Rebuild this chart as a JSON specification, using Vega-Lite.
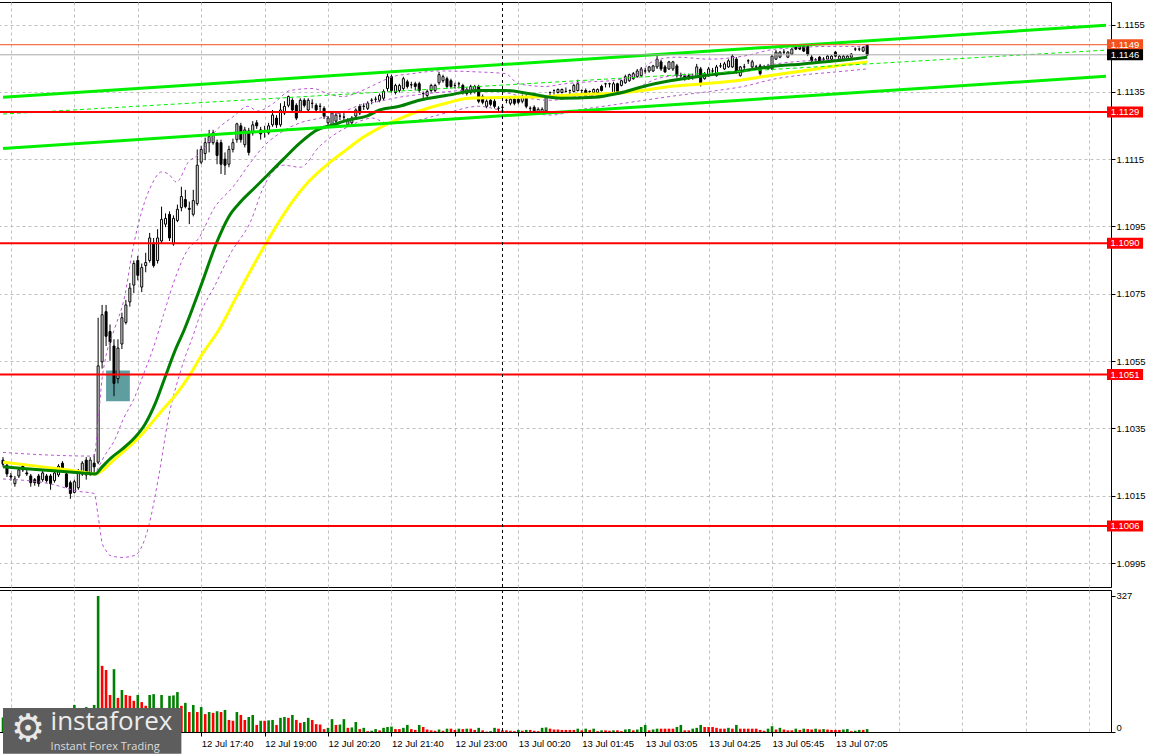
{
"$schema": "https://vega.github.io/schema/vega-lite/v6.json",
"background": "white",
"padding": {"left": -3, "top": 1, "right": 0, "bottom": 0},
"bounds": "flush",
"spacing": 3,
"datasets": {
"bars": [
{"n":0,"o":1.10256,"h":1.10265,"l":1.10236,"c":1.10244,"v":35},
{"n":1,"o":1.10241,"h":1.10247,"l":1.10206,"c":1.10215,"v":28},
{"n":2,"o":1.10209,"h":1.10218,"l":1.10195,"c":1.10206,"v":40},
{"n":3,"o":1.10186,"h":1.10209,"l":1.10177,"c":1.10200,"v":22},
{"n":4,"o":1.10209,"h":1.10236,"l":1.10203,"c":1.10227,"v":30},
{"n":5,"o":1.10238,"h":1.10244,"l":1.10221,"c":1.10227,"v":25},
{"n":6,"o":1.10218,"h":1.10230,"l":1.10209,"c":1.10215,"v":38},
{"n":7,"o":1.10209,"h":1.10215,"l":1.10177,"c":1.10189,"v":30},
{"n":8,"o":1.10198,"h":1.10203,"l":1.10180,"c":1.10189,"v":26},
{"n":9,"o":1.10209,"h":1.10215,"l":1.10177,"c":1.10186,"v":32},
{"n":10,"o":1.10198,"h":1.10224,"l":1.10192,"c":1.10218,"v":45},
{"n":11,"o":1.10209,"h":1.10215,"l":1.10189,"c":1.10195,"v":28},
{"n":12,"o":1.10209,"h":1.10215,"l":1.10168,"c":1.10186,"v":33},
{"n":13,"o":1.10195,"h":1.10224,"l":1.10189,"c":1.10218,"v":50},
{"n":14,"o":1.10212,"h":1.10244,"l":1.10206,"c":1.10238,"v":42},
{"n":15,"o":1.10247,"h":1.10253,"l":1.10227,"c":1.10233,"v":30},
{"n":16,"o":1.10215,"h":1.10221,"l":1.10174,"c":1.10177,"v":48},
{"n":17,"o":1.10189,"h":1.10195,"l":1.10141,"c":1.10157,"v":55},
{"n":18,"o":1.10160,"h":1.10198,"l":1.10157,"c":1.10192,"v":65},
{"n":19,"o":1.10174,"h":1.10230,"l":1.10168,"c":1.10224,"v":50},
{"n":20,"o":1.10215,"h":1.10253,"l":1.10209,"c":1.10247,"v":45},
{"n":21,"o":1.10256,"h":1.10265,"l":1.10198,"c":1.10212,"v":60},
{"n":22,"o":1.10215,"h":1.10265,"l":1.10209,"c":1.10256,"v":48},
{"n":23,"o":1.10247,"h":1.10274,"l":1.10215,"c":1.10236,"v":65},
{"n":24,"o":1.10250,"h":1.10679,"l":1.10244,"c":1.10536,"v":327},
{"n":25,"o":1.10548,"h":1.10717,"l":1.10528,"c":1.10688,"v":159},
{"n":26,"o":1.10697,"h":1.10717,"l":1.10595,"c":1.10624,"v":149},
{"n":27,"o":1.10638,"h":1.10659,"l":1.10551,"c":1.10606,"v":89},
{"n":28,"o":1.10595,"h":1.10615,"l":1.10446,"c":1.10484,"v":151},
{"n":29,"o":1.10498,"h":1.10615,"l":1.10484,"c":1.10589,"v":82},
{"n":30,"o":1.10601,"h":1.10694,"l":1.10586,"c":1.10679,"v":101},
{"n":31,"o":1.10665,"h":1.10732,"l":1.10659,"c":1.10717,"v":89},
{"n":32,"o":1.10726,"h":1.10782,"l":1.10712,"c":1.10767,"v":87},
{"n":33,"o":1.10776,"h":1.10849,"l":1.10752,"c":1.10840,"v":75},
{"n":34,"o":1.10849,"h":1.10863,"l":1.10790,"c":1.10805,"v":89},
{"n":35,"o":1.10770,"h":1.10840,"l":1.10755,"c":1.10828,"v":72},
{"n":36,"o":1.10834,"h":1.10872,"l":1.10814,"c":1.10843,"v":63},
{"n":37,"o":1.10849,"h":1.10931,"l":1.10843,"c":1.10916,"v":89},
{"n":38,"o":1.10901,"h":1.10916,"l":1.10828,"c":1.10834,"v":91},
{"n":39,"o":1.10849,"h":1.10942,"l":1.10840,"c":1.10916,"v":58},
{"n":40,"o":1.10907,"h":1.11009,"l":1.10898,"c":1.10971,"v":89},
{"n":41,"o":1.10957,"h":1.10989,"l":1.10948,"c":1.10974,"v":55},
{"n":42,"o":1.10986,"h":1.10995,"l":1.10907,"c":1.10916,"v":87},
{"n":43,"o":1.10898,"h":1.10983,"l":1.10893,"c":1.10974,"v":88},
{"n":44,"o":1.10968,"h":1.11015,"l":1.10963,"c":1.11001,"v":96},
{"n":45,"o":1.11006,"h":1.11068,"l":1.10995,"c":1.11039,"v":63},
{"n":46,"o":1.11030,"h":1.11059,"l":1.11004,"c":1.11009,"v":70},
{"n":47,"o":1.11004,"h":1.11024,"l":1.10957,"c":1.11001,"v":48},
{"n":48,"o":1.10986,"h":1.11059,"l":1.10980,"c":1.11027,"v":65},
{"n":49,"o":1.11018,"h":1.11179,"l":1.11012,"c":1.11132,"v":48},
{"n":50,"o":1.11141,"h":1.11190,"l":1.11135,"c":1.11179,"v":60},
{"n":51,"o":1.11167,"h":1.11214,"l":1.11147,"c":1.11199,"v":43},
{"n":52,"o":1.11199,"h":1.11237,"l":1.11170,"c":1.11217,"v":48},
{"n":53,"o":1.11199,"h":1.11237,"l":1.11193,"c":1.11228,"v":46},
{"n":54,"o":1.11199,"h":1.11208,"l":1.11135,"c":1.11161,"v":50},
{"n":55,"o":1.11199,"h":1.11208,"l":1.11106,"c":1.11135,"v":48},
{"n":56,"o":1.11150,"h":1.11170,"l":1.11103,"c":1.11132,"v":53},
{"n":57,"o":1.11135,"h":1.11190,"l":1.11126,"c":1.11179,"v":29},
{"n":58,"o":1.11179,"h":1.11211,"l":1.11170,"c":1.11199,"v":27},
{"n":59,"o":1.11208,"h":1.11258,"l":1.11199,"c":1.11255,"v":48},
{"n":60,"o":1.11249,"h":1.11258,"l":1.11199,"c":1.11208,"v":41},
{"n":61,"o":1.11193,"h":1.11246,"l":1.11185,"c":1.11237,"v":29},
{"n":62,"o":1.11234,"h":1.11243,"l":1.11161,"c":1.11170,"v":36},
{"n":63,"o":1.11228,"h":1.11263,"l":1.11220,"c":1.11252,"v":41},
{"n":64,"o":1.11258,"h":1.11266,"l":1.11240,"c":1.11249,"v":17},
{"n":65,"o":1.11237,"h":1.11246,"l":1.11208,"c":1.11225,"v":27},
{"n":66,"o":1.11234,"h":1.11249,"l":1.11214,"c":1.11234,"v":27},
{"n":67,"o":1.11228,"h":1.11258,"l":1.11223,"c":1.11249,"v":28},
{"n":68,"o":1.11252,"h":1.11296,"l":1.11246,"c":1.11281,"v":29},
{"n":69,"o":1.11272,"h":1.11281,"l":1.11243,"c":1.11252,"v":17},
{"n":70,"o":1.11252,"h":1.11316,"l":1.11246,"c":1.11296,"v":34},
{"n":71,"o":1.11287,"h":1.11322,"l":1.11281,"c":1.11307,"v":36},
{"n":72,"o":1.11310,"h":1.11339,"l":1.11304,"c":1.11336,"v":34},
{"n":73,"o":1.11325,"h":1.11331,"l":1.11287,"c":1.11296,"v":41},
{"n":74,"o":1.11310,"h":1.11316,"l":1.11266,"c":1.11272,"v":29},
{"n":75,"o":1.11293,"h":1.11331,"l":1.11287,"c":1.11325,"v":22},
{"n":76,"o":1.11325,"h":1.11331,"l":1.11304,"c":1.11310,"v":24},
{"n":77,"o":1.11296,"h":1.11331,"l":1.11290,"c":1.11325,"v":34},
{"n":78,"o":1.11316,"h":1.11328,"l":1.11301,"c":1.11316,"v":29},
{"n":79,"o":1.11310,"h":1.11316,"l":1.11287,"c":1.11296,"v":19},
{"n":80,"o":1.11307,"h":1.11316,"l":1.11293,"c":1.11307,"v":18},
{"n":81,"o":1.11301,"h":1.11307,"l":1.11269,"c":1.11278,"v":7},
{"n":82,"o":1.11258,"h":1.11278,"l":1.11252,"c":1.11272,"v":10},
{"n":83,"o":1.11249,"h":1.11293,"l":1.11243,"c":1.11287,"v":31},
{"n":84,"o":1.11263,"h":1.11287,"l":1.11258,"c":1.11281,"v":17},
{"n":85,"o":1.11278,"h":1.11287,"l":1.11266,"c":1.11278,"v":18},
{"n":86,"o":1.11275,"h":1.11293,"l":1.11263,"c":1.11275,"v":31},
{"n":87,"o":1.11252,"h":1.11272,"l":1.11249,"c":1.11266,"v":10},
{"n":88,"o":1.11258,"h":1.11278,"l":1.11252,"c":1.11272,"v":11},
{"n":89,"o":1.11278,"h":1.11301,"l":1.11272,"c":1.11296,"v":24},
{"n":90,"o":1.11307,"h":1.11313,"l":1.11281,"c":1.11287,"v":7},
{"n":91,"o":1.11307,"h":1.11316,"l":1.11296,"c":1.11307,"v":10},
{"n":92,"o":1.11301,"h":1.11322,"l":1.11296,"c":1.11316,"v":2},
{"n":93,"o":1.11325,"h":1.11331,"l":1.11313,"c":1.11325,"v":3},
{"n":94,"o":1.11328,"h":1.11336,"l":1.11319,"c":1.11328,"v":7},
{"n":95,"o":1.11325,"h":1.11345,"l":1.11319,"c":1.11339,"v":4},
{"n":96,"o":1.11331,"h":1.11357,"l":1.11325,"c":1.11351,"v":10},
{"n":97,"o":1.11360,"h":1.11404,"l":1.11351,"c":1.11395,"v":12},
{"n":98,"o":1.11395,"h":1.11401,"l":1.11348,"c":1.11354,"v":13},
{"n":99,"o":1.11348,"h":1.11374,"l":1.11342,"c":1.11369,"v":7},
{"n":100,"o":1.11354,"h":1.11374,"l":1.11348,"c":1.11369,"v":7},
{"n":101,"o":1.11360,"h":1.11395,"l":1.11354,"c":1.11389,"v":10},
{"n":102,"o":1.11380,"h":1.11386,"l":1.11360,"c":1.11366,"v":17},
{"n":103,"o":1.11371,"h":1.11380,"l":1.11360,"c":1.11371,"v":7},
{"n":104,"o":1.11374,"h":1.11380,"l":1.11354,"c":1.11366,"v":5},
{"n":105,"o":1.11374,"h":1.11380,"l":1.11348,"c":1.11354,"v":17},
{"n":106,"o":1.11345,"h":1.11351,"l":1.11331,"c":1.11345,"v":12},
{"n":107,"o":1.11339,"h":1.11357,"l":1.11334,"c":1.11351,"v":6},
{"n":108,"o":1.11354,"h":1.11374,"l":1.11348,"c":1.11369,"v":4},
{"n":109,"o":1.11354,"h":1.11374,"l":1.11348,"c":1.11369,"v":3},
{"n":110,"o":1.11377,"h":1.11409,"l":1.11371,"c":1.11401,"v":6},
{"n":111,"o":1.11383,"h":1.11401,"l":1.11377,"c":1.11395,"v":3},
{"n":112,"o":1.11389,"h":1.11395,"l":1.11360,"c":1.11366,"v":8},
{"n":113,"o":1.11383,"h":1.11389,"l":1.11360,"c":1.11366,"v":8},
{"n":114,"o":1.11369,"h":1.11377,"l":1.11360,"c":1.11369,"v":5},
{"n":115,"o":1.11374,"h":1.11380,"l":1.11360,"c":1.11374,"v":8},
{"n":116,"o":1.11369,"h":1.11374,"l":1.11342,"c":1.11348,"v":7},
{"n":117,"o":1.11345,"h":1.11363,"l":1.11339,"c":1.11357,"v":8},
{"n":118,"o":1.11348,"h":1.11371,"l":1.11342,"c":1.11366,"v":8},
{"n":119,"o":1.11351,"h":1.11371,"l":1.11345,"c":1.11366,"v":5},
{"n":120,"o":1.11366,"h":1.11371,"l":1.11316,"c":1.11322,"v":10},
{"n":121,"o":1.11336,"h":1.11342,"l":1.11313,"c":1.11319,"v":4},
{"n":122,"o":1.11307,"h":1.11328,"l":1.11301,"c":1.11322,"v":1},
{"n":123,"o":1.11325,"h":1.11331,"l":1.11307,"c":1.11313,"v":2},
{"n":124,"o":1.11322,"h":1.11328,"l":1.11301,"c":1.11307,"v":10},
{"n":125,"o":1.11301,"h":1.11307,"l":1.11287,"c":1.11301,"v":8},
{"n":126,"o":1.11304,"h":1.11310,"l":1.11293,"c":1.11304,"v":4},
{"n":127,"o":1.11325,"h":1.11334,"l":1.11316,"c":1.11325,"v":4},
{"n":128,"o":1.11316,"h":1.11334,"l":1.11310,"c":1.11328,"v":3},
{"n":129,"o":1.11328,"h":1.11334,"l":1.11310,"c":1.11316,"v":2},
{"n":130,"o":1.11328,"h":1.11334,"l":1.11313,"c":1.11319,"v":5},
{"n":131,"o":1.11322,"h":1.11342,"l":1.11316,"c":1.11336,"v":3},
{"n":132,"o":1.11336,"h":1.11342,"l":1.11301,"c":1.11307,"v":5},
{"n":133,"o":1.11301,"h":1.11307,"l":1.11293,"c":1.11301,"v":5},
{"n":134,"o":1.11304,"h":1.11310,"l":1.11287,"c":1.11293,"v":3},
{"n":135,"o":1.11287,"h":1.11304,"l":1.11284,"c":1.11298,"v":2},
{"n":136,"o":1.11287,"h":1.11304,"l":1.11284,"c":1.11298,"v":10},
{"n":137,"o":1.11293,"h":1.11339,"l":1.11287,"c":1.11334,"v":11},
{"n":138,"o":1.11348,"h":1.11351,"l":1.11336,"c":1.11348,"v":8},
{"n":139,"o":1.11354,"h":1.11357,"l":1.11342,"c":1.11354,"v":6},
{"n":140,"o":1.11348,"h":1.11360,"l":1.11345,"c":1.11357,"v":6},
{"n":141,"o":1.11348,"h":1.11360,"l":1.11345,"c":1.11357,"v":5},
{"n":142,"o":1.11351,"h":1.11363,"l":1.11348,"c":1.11351,"v":5},
{"n":143,"o":1.11354,"h":1.11357,"l":1.11342,"c":1.11354,"v":5},
{"n":144,"o":1.11351,"h":1.11374,"l":1.11348,"c":1.11369,"v":5},
{"n":145,"o":1.11354,"h":1.11386,"l":1.11351,"c":1.11374,"v":8},
{"n":146,"o":1.11354,"h":1.11357,"l":1.11345,"c":1.11354,"v":4},
{"n":147,"o":1.11354,"h":1.11360,"l":1.11336,"c":1.11339,"v":8},
{"n":148,"o":1.11351,"h":1.11354,"l":1.11339,"c":1.11351,"v":5},
{"n":149,"o":1.11348,"h":1.11360,"l":1.11345,"c":1.11357,"v":8},
{"n":150,"o":1.11348,"h":1.11360,"l":1.11345,"c":1.11357,"v":2},
{"n":151,"o":1.11366,"h":1.11371,"l":1.11351,"c":1.11354,"v":4},
{"n":152,"o":1.11374,"h":1.11377,"l":1.11363,"c":1.11374,"v":4},
{"n":153,"o":1.11374,"h":1.11377,"l":1.11363,"c":1.11374,"v":3},
{"n":154,"o":1.11348,"h":1.11380,"l":1.11345,"c":1.11374,"v":4},
{"n":155,"o":1.11374,"h":1.11377,"l":1.11345,"c":1.11348,"v":4},
{"n":156,"o":1.11369,"h":1.11386,"l":1.11366,"c":1.11383,"v":2},
{"n":157,"o":1.11377,"h":1.11401,"l":1.11374,"c":1.11395,"v":6},
{"n":158,"o":1.11383,"h":1.11404,"l":1.11380,"c":1.11401,"v":7},
{"n":159,"o":1.11389,"h":1.11409,"l":1.11386,"c":1.11404,"v":4},
{"n":160,"o":1.11395,"h":1.11418,"l":1.11392,"c":1.11412,"v":6},
{"n":161,"o":1.11398,"h":1.11424,"l":1.11395,"c":1.11418,"v":12},
{"n":162,"o":1.11412,"h":1.11421,"l":1.11404,"c":1.11412,"v":17},
{"n":163,"o":1.11412,"h":1.11427,"l":1.11407,"c":1.11424,"v":4},
{"n":164,"o":1.11412,"h":1.11430,"l":1.11409,"c":1.11427,"v":6},
{"n":165,"o":1.11424,"h":1.11459,"l":1.11418,"c":1.11447,"v":8},
{"n":166,"o":1.11439,"h":1.11445,"l":1.11412,"c":1.11418,"v":8},
{"n":167,"o":1.11424,"h":1.11430,"l":1.11407,"c":1.11409,"v":8},
{"n":168,"o":1.11418,"h":1.11442,"l":1.11415,"c":1.11439,"v":8},
{"n":169,"o":1.11418,"h":1.11442,"l":1.11412,"c":1.11439,"v":8},
{"n":170,"o":1.11427,"h":1.11433,"l":1.11392,"c":1.11398,"v":12},
{"n":171,"o":1.11398,"h":1.11407,"l":1.11392,"c":1.11398,"v":17},
{"n":172,"o":1.11398,"h":1.11404,"l":1.11383,"c":1.11389,"v":4},
{"n":173,"o":1.11398,"h":1.11404,"l":1.11386,"c":1.11389,"v":4},
{"n":174,"o":1.11395,"h":1.11404,"l":1.11386,"c":1.11395,"v":8},
{"n":175,"o":1.11395,"h":1.11433,"l":1.11392,"c":1.11424,"v":10},
{"n":176,"o":1.11418,"h":1.11424,"l":1.11366,"c":1.11374,"v":17},
{"n":177,"o":1.11389,"h":1.11409,"l":1.11386,"c":1.11404,"v":12},
{"n":178,"o":1.11398,"h":1.11424,"l":1.11395,"c":1.11418,"v":12},
{"n":179,"o":1.11412,"h":1.11421,"l":1.11404,"c":1.11412,"v":12},
{"n":180,"o":1.11398,"h":1.11430,"l":1.11395,"c":1.11424,"v":10},
{"n":181,"o":1.11427,"h":1.11436,"l":1.11421,"c":1.11427,"v":8},
{"n":182,"o":1.11418,"h":1.11439,"l":1.11415,"c":1.11433,"v":8},
{"n":183,"o":1.11424,"h":1.11447,"l":1.11421,"c":1.11442,"v":10},
{"n":184,"o":1.11424,"h":1.11462,"l":1.11421,"c":1.11456,"v":8},
{"n":185,"o":1.11447,"h":1.11453,"l":1.11404,"c":1.11409,"v":17},
{"n":186,"o":1.11398,"h":1.11427,"l":1.11395,"c":1.11424,"v":8},
{"n":187,"o":1.11424,"h":1.11433,"l":1.11415,"c":1.11424,"v":8},
{"n":188,"o":1.11442,"h":1.11447,"l":1.11433,"c":1.11442,"v":8},
{"n":189,"o":1.11424,"h":1.11445,"l":1.11421,"c":1.11439,"v":8},
{"n":190,"o":1.11424,"h":1.11430,"l":1.11418,"c":1.11424,"v":8},
{"n":191,"o":1.11427,"h":1.11433,"l":1.11398,"c":1.11404,"v":5},
{"n":192,"o":1.11424,"h":1.11430,"l":1.11418,"c":1.11424,"v":3},
{"n":193,"o":1.11418,"h":1.11433,"l":1.11415,"c":1.11427,"v":8},
{"n":194,"o":1.11418,"h":1.11459,"l":1.11415,"c":1.11456,"v":14},
{"n":195,"o":1.11447,"h":1.11474,"l":1.11445,"c":1.11468,"v":6},
{"n":196,"o":1.11453,"h":1.11471,"l":1.11450,"c":1.11468,"v":10},
{"n":197,"o":1.11468,"h":1.11477,"l":1.11462,"c":1.11468,"v":6},
{"n":198,"o":1.11453,"h":1.11471,"l":1.11450,"c":1.11468,"v":4},
{"n":199,"o":1.11462,"h":1.11480,"l":1.11459,"c":1.11477,"v":4},
{"n":200,"o":1.11485,"h":1.11488,"l":1.11474,"c":1.11477,"v":8},
{"n":201,"o":1.11485,"h":1.11488,"l":1.11474,"c":1.11477,"v":5},
{"n":202,"o":1.11485,"h":1.11488,"l":1.11468,"c":1.11471,"v":8},
{"n":203,"o":1.11485,"h":1.11488,"l":1.11456,"c":1.11462,"v":7},
{"n":204,"o":1.11453,"h":1.11459,"l":1.11439,"c":1.11442,"v":6},
{"n":205,"o":1.11445,"h":1.11450,"l":1.11439,"c":1.11445,"v":8},
{"n":206,"o":1.11453,"h":1.11456,"l":1.11436,"c":1.11439,"v":6},
{"n":207,"o":1.11447,"h":1.11453,"l":1.11442,"c":1.11447,"v":7},
{"n":208,"o":1.11447,"h":1.11459,"l":1.11445,"c":1.11456,"v":6},
{"n":209,"o":1.11447,"h":1.11459,"l":1.11445,"c":1.11456,"v":5},
{"n":210,"o":1.11468,"h":1.11471,"l":1.11453,"c":1.11456,"v":5},
{"n":211,"o":1.11447,"h":1.11459,"l":1.11445,"c":1.11456,"v":5},
{"n":212,"o":1.11447,"h":1.11459,"l":1.11445,"c":1.11456,"v":6},
{"n":213,"o":1.11447,"h":1.11459,"l":1.11445,"c":1.11456,"v":7},
{"n":214,"o":1.11453,"h":1.11465,"l":1.11450,"c":1.11462,"v":2},
{"n":215,"o":1.11477,"h":1.11482,"l":1.11471,"c":1.11477,"v":3},
{"n":216,"o":1.11477,"h":1.11482,"l":1.11471,"c":1.11477,"v":5},
{"n":217,"o":1.11471,"h":1.11485,"l":1.11468,"c":1.11482,"v":5},
{"n":218,"o":1.11488,"h":1.11491,"l":1.11456,"c":1.11459,"v":7}
],
"ind": [
{"s":"g","n":0,"p":1.10236},{"s":"g","n":10,"p":1.10227},{"s":"g","n":20,"p":1.10218},{"s":"g","n":23.25,"p":1.10215},{"s":"g","n":25,"p":1.10236},{"s":"g","n":27.5,"p":1.10265},{"s":"g","n":30,"p":1.10288},{"s":"g","n":33.25,"p":1.10323},{"s":"g","n":35.75,"p":1.10361},{"s":"g","n":38.25,"p":1.10420},{"s":"g","n":40.75,"p":1.10498},{"s":"g","n":43.25,"p":1.10577},{"s":"g","n":45.75,"p":1.10644},{"s":"g","n":50,"p":1.10776},{"s":"g","n":53.75,"p":1.10898},{"s":"g","n":57,"p":1.10980},{"s":"g","n":60,"p":1.11024},{"s":"g","n":63.25,"p":1.11062},{"s":"g","n":66.75,"p":1.11103},{"s":"g","n":70.75,"p":1.11150},{"s":"g","n":75,"p":1.11199},{"s":"g","n":79.25,"p":1.11237},{"s":"g","n":83.25,"p":1.11252},{"s":"g","n":87,"p":1.11266},{"s":"g","n":91.75,"p":1.11278},{"s":"g","n":95,"p":1.11296},{"s":"g","n":100,"p":1.11307},{"s":"g","n":105,"p":1.11325},{"s":"g","n":111.75,"p":1.11339},{"s":"g","n":120,"p":1.11354},{"s":"g","n":126.75,"p":1.11354},{"s":"g","n":132.5,"p":1.11345},{"s":"g","n":140.75,"p":1.11331},{"s":"g","n":149.25,"p":1.11334},{"s":"g","n":155,"p":1.11345},{"s":"g","n":162.5,"p":1.11369},{"s":"g","n":168.25,"p":1.11383},{"s":"g","n":176.75,"p":1.11398},{"s":"g","n":185,"p":1.11409},{"s":"g","n":193.25,"p":1.11424},{"s":"g","n":201.75,"p":1.11433},{"s":"g","n":210,"p":1.11442},{"s":"g","n":218,"p":1.11453},
{"s":"y","n":0,"p":1.10250},{"s":"y","n":10,"p":1.10236},{"s":"y","n":20,"p":1.10221},{"s":"y","n":23,"p":1.10215},{"s":"y","n":28.75,"p":1.10265},{"s":"y","n":35,"p":1.10332},{"s":"y","n":40,"p":1.10402},{"s":"y","n":44.25,"p":1.10460},{"s":"y","n":47,"p":1.10507},{"s":"y","n":50,"p":1.10566},{"s":"y","n":54.5,"p":1.10644},{"s":"y","n":58.75,"p":1.10738},{"s":"y","n":62.5,"p":1.10820},{"s":"y","n":66.25,"p":1.10898},{"s":"y","n":70,"p":1.10971},{"s":"y","n":73,"p":1.11024},{"s":"y","n":77,"p":1.11082},{"s":"y","n":82.5,"p":1.11141},{"s":"y","n":86.75,"p":1.11179},{"s":"y","n":90.75,"p":1.11214},{"s":"y","n":95,"p":1.11243},{"s":"y","n":99.25,"p":1.11266},{"s":"y","n":105,"p":1.11293},{"s":"y","n":111.75,"p":1.11316},{"s":"y","n":117.5,"p":1.11331},{"s":"y","n":128.25,"p":1.11334},{"s":"y","n":136.75,"p":1.11336},{"s":"y","n":145,"p":1.11342},{"s":"y","n":153.25,"p":1.11345},{"s":"y","n":163.25,"p":1.11357},{"s":"y","n":168.25,"p":1.11366},{"s":"y","n":176.75,"p":1.11374},{"s":"y","n":185,"p":1.11383},{"s":"y","n":193.25,"p":1.11398},{"s":"y","n":201.75,"p":1.11412},{"s":"y","n":210,"p":1.11427},{"s":"y","n":218,"p":1.11439},
{"s":"u","n":0,"p":1.10279},{"s":"u","n":11.75,"p":1.10271},{"s":"u","n":23,"p":1.10268},{"s":"u","n":24,"p":1.10373},{"s":"u","n":25,"p":1.10498},{"s":"u","n":26,"p":1.10566},{"s":"u","n":28.25,"p":1.10650},{"s":"u","n":30.5,"p":1.10732},{"s":"u","n":33,"p":1.10898},{"s":"u","n":35,"p":1.10995},{"s":"u","n":37.5,"p":1.11074},{"s":"u","n":40,"p":1.11112},{"s":"u","n":41.75,"p":1.11106},{"s":"u","n":43.75,"p":1.11082},{"s":"u","n":46.75,"p":1.11141},{"s":"u","n":50,"p":1.11170},{"s":"u","n":53.25,"p":1.11228},{"s":"u","n":58.25,"p":1.11278},{"s":"u","n":61.75,"p":1.11307},{"s":"u","n":64.25,"p":1.11293},{"s":"u","n":68.25,"p":1.11316},{"s":"u","n":72.5,"p":1.11354},{"s":"u","n":78.25,"p":1.11360},{"s":"u","n":81.75,"p":1.11345},{"s":"u","n":85.75,"p":1.11336},{"s":"u","n":90,"p":1.11351},{"s":"u","n":94.25,"p":1.11374},{"s":"u","n":98.25,"p":1.11395},{"s":"u","n":103.25,"p":1.11404},{"s":"u","n":110,"p":1.11412},{"s":"u","n":120,"p":1.11409},{"s":"u","n":126.75,"p":1.11404},{"s":"u","n":130,"p":1.11374},{"s":"u","n":136.75,"p":1.11366},{"s":"u","n":141.75,"p":1.11374},{"s":"u","n":148.25,"p":1.11380},{"s":"u","n":153.25,"p":1.11383},{"s":"u","n":160,"p":1.11404},{"s":"u","n":164.25,"p":1.11442},{"s":"u","n":170,"p":1.11453},{"s":"u","n":178.25,"p":1.11447},{"s":"u","n":186.75,"p":1.11456},{"s":"u","n":195,"p":1.11477},{"s":"u","n":210,"p":1.11485},{"s":"u","n":218,"p":1.11485},
{"s":"d","n":0,"p":1.10200},{"s":"d","n":11.75,"p":1.10186},{"s":"d","n":19.25,"p":1.10163},{"s":"d","n":23,"p":1.10157},{"s":"d","n":24,"p":1.10090},{"s":"d","n":25,"p":1.10011},{"s":"d","n":26,"p":1.09987},{"s":"d","n":27,"p":1.09973},{"s":"d","n":30,"p":1.09967},{"s":"d","n":33.25,"p":1.09973},{"s":"d","n":36.75,"p":1.10060},{"s":"d","n":39.25,"p":1.10206},{"s":"d","n":41.75,"p":1.10382},{"s":"d","n":45,"p":1.10528},{"s":"d","n":48.25,"p":1.10636},{"s":"d","n":50,"p":1.10697},{"s":"d","n":53.25,"p":1.10770},{"s":"d","n":57.5,"p":1.10872},{"s":"d","n":62.5,"p":1.10966},{"s":"d","n":65.75,"p":1.11068},{"s":"d","n":70.75,"p":1.11132},{"s":"d","n":75,"p":1.11126},{"s":"d","n":80,"p":1.11190},{"s":"d","n":83.25,"p":1.11220},{"s":"d","n":87.5,"p":1.11249},{"s":"d","n":93.25,"p":1.11272},{"s":"d","n":96.75,"p":1.11258},{"s":"d","n":103.25,"p":1.11263},{"s":"d","n":111.75,"p":1.11287},{"s":"d","n":120,"p":1.11307},{"s":"d","n":126.75,"p":1.11293},{"s":"d","n":132.5,"p":1.11287},{"s":"d","n":138.25,"p":1.11281},{"s":"d","n":145,"p":1.11296},{"s":"d","n":153.25,"p":1.11310},{"s":"d","n":161.75,"p":1.11325},{"s":"d","n":170,"p":1.11339},{"s":"d","n":178.25,"p":1.11351},{"s":"d","n":186.75,"p":1.11366},{"s":"d","n":195,"p":1.11389},{"s":"d","n":202.5,"p":1.11401},{"s":"d","n":210,"p":1.11409},{"s":"d","n":218,"p":1.11418},
{"s":"m","n":0,"p":1.10236},{"s":"m","n":11.75,"p":1.10227},{"s":"m","n":23,"p":1.10215},{"s":"m","n":24,"p":1.10233},{"s":"m","n":25,"p":1.10256},{"s":"m","n":26,"p":1.10276},{"s":"m","n":28,"p":1.10312},{"s":"m","n":30.5,"p":1.10382},{"s":"m","n":33,"p":1.10437},{"s":"m","n":35.5,"p":1.10513},{"s":"m","n":38,"p":1.10592},{"s":"m","n":40.5,"p":1.10688},{"s":"m","n":43,"p":1.10782},{"s":"m","n":46.75,"p":1.10884},{"s":"m","n":49.25,"p":1.10913},{"s":"m","n":53.25,"p":1.11004},{"s":"m","n":58.25,"p":1.11071},{"s":"m","n":62.5,"p":1.11141},{"s":"m","n":65.75,"p":1.11188},{"s":"m","n":70.75,"p":1.11234},{"s":"m","n":75,"p":1.11258},{"s":"m","n":80,"p":1.11272},{"s":"m","n":85,"p":1.11287},{"s":"m","n":90,"p":1.11310},{"s":"m","n":95,"p":1.11322},{"s":"m","n":100,"p":1.11334},{"s":"m","n":105,"p":1.11342},{"s":"m","n":112.5,"p":1.11351},{"s":"m","n":120,"p":1.11357},{"s":"m","n":126.75,"p":1.11348},{"s":"m","n":132.5,"p":1.11331},{"s":"m","n":138.25,"p":1.11325},{"s":"m","n":145,"p":1.11336},{"s":"m","n":153.25,"p":1.11345},{"s":"m","n":160,"p":1.11363},{"s":"m","n":165,"p":1.11389},{"s":"m","n":170,"p":1.11398},{"s":"m","n":178.25,"p":1.11401},{"s":"m","n":186.75,"p":1.11412},{"s":"m","n":195,"p":1.11433},{"s":"m","n":202.5,"p":1.11442},{"s":"m","n":210,"p":1.11447},{"s":"m","n":218,"p":1.11453}
],
"tl": [
{"s":"a","n":0,"p":1.11334},{"s":"a","n":278.25,"p":1.11548},
{"s":"b","n":0,"p":1.11284},{"s":"b","n":278.25,"p":1.11474},
{"s":"c","n":0,"p":1.11182},{"s":"c","n":278.25,"p":1.11396}
],
"lv": [{"p":1.1129},{"p":1.109},{"p":1.1051},{"p":1.1006}],
"lb": [
{"p":1.1149,"t":"1.1149","k":"o"},
{"p":1.1146,"t":"1.1146","k":"b"},
{"p":1.1129,"t":"1.1129","k":"r"},
{"p":1.109,"t":"1.1090","k":"r"},
{"p":1.1051,"t":"1.1051","k":"r"},
{"p":1.1006,"t":"1.1006","k":"r"}
]
},
"vconcat": [
{
"width": 1113, "height": 585,
"layer": [
{"data": {"values": [{}]},
 "mark": {"type": "rect", "color": "#5F9EA0", "clip": true},
 "encoding": {
  "x": {"datum": 26, "type": "quantitative", "scale": {"domain": [0, 278.25], "nice": false, "zero": false},
        "axis": {"values": [2,10,18,26,34,42,50,58,66,74,82,90,98,106,114,122,130,138,146,154,162,170,178,186,194,202,210,218,226,234,242,250,258,266,274], "grid": true, "labels": false, "ticks": false, "domain": false, "title": null, "minExtent": 0, "maxExtent": 0}},
  "x2": {"datum": 32},
  "y": {"datum": 1.10522, "type": "quantitative", "scale": {"domain": [1.09894, 1.11602], "nice": false, "zero": false},
        "axis": {"orient": "right", "values": [1.0995,1.1005,1.1015,1.1025,1.1035,1.1045,1.1055,1.1065,1.1075,1.1085,1.1095,1.1105,1.1115,1.1125,1.1135,1.1145,1.1155], "format": ".4f", "grid": true, "tickSize": 4, "labelPadding": 1, "title": null}},
  "y2": {"datum": 1.10431}
 }},
{"data": {"name": "bars"},
 "mark": {"type": "rule", "color": "#000000", "strokeWidth": 1, "clip": true},
 "encoding": {
  "x": {"field": "n", "type": "quantitative", "title": null, "scale": {"domain": [0, 278.25], "nice": false, "zero": false}},
  "y": {"field": "l", "type": "quantitative", "title": null, "scale": {"domain": [1.09894, 1.11602], "nice": false, "zero": false}},
  "y2": {"field": "h"}
 }},
{"data": {"name": "bars"},
 "mark": {"type": "bar", "width": 2, "stroke": "#000000", "strokeWidth": 1, "clip": true},
 "encoding": {
  "x": {"field": "n", "type": "quantitative", "title": null, "scale": {"domain": [0, 278.25], "nice": false, "zero": false}},
  "y": {"field": "o", "type": "quantitative", "title": null, "scale": {"domain": [1.09894, 1.11602], "nice": false, "zero": false}},
  "y2": {"field": "c"},
  "fill": {"condition": {"test": "datum.c > datum.o", "value": "#ffffff"}, "value": "#000000"}
 }},
{"data": {"name": "ind"},
 "transform": [{"filter": "datum.s == 'u' || datum.s == 'm' || datum.s == 'd'"}],
 "mark": {"type": "line", "color": "#BA55D3", "strokeWidth": 1, "strokeDash": [3, 3], "interpolate": "monotone", "clip": true, "strokeJoin": "round"},
 "encoding": {
  "x": {"field": "n", "type": "quantitative", "title": null, "scale": {"domain": [0, 278.25], "nice": false, "zero": false}},
  "y": {"field": "p", "type": "quantitative", "title": null, "scale": {"domain": [1.09894, 1.11602], "nice": false, "zero": false}},
  "detail": {"field": "s", "type": "nominal"}
 }},
{"data": {"name": "ind"},
 "transform": [{"filter": "datum.s == 'y'"}],
 "mark": {"type": "line", "color": "#FFFF00", "strokeWidth": 3, "interpolate": "monotone", "clip": true, "strokeJoin": "round"},
 "encoding": {
  "x": {"field": "n", "type": "quantitative", "title": null, "scale": {"domain": [0, 278.25], "nice": false, "zero": false}},
  "y": {"field": "p", "type": "quantitative", "title": null, "scale": {"domain": [1.09894, 1.11602], "nice": false, "zero": false}}
 }},
{"data": {"name": "ind"},
 "transform": [{"filter": "datum.s == 'g'"}],
 "mark": {"type": "line", "color": "#008000", "strokeWidth": 3, "interpolate": "monotone", "clip": true, "strokeJoin": "round"},
 "encoding": {
  "x": {"field": "n", "type": "quantitative", "title": null, "scale": {"domain": [0, 278.25], "nice": false, "zero": false}},
  "y": {"field": "p", "type": "quantitative", "title": null, "scale": {"domain": [1.09894, 1.11602], "nice": false, "zero": false}}
 }},
{"data": {"name": "tl"},
 "transform": [{"filter": "datum.s != 'b'"}],
 "mark": {"type": "line", "color": "#00F000", "strokeWidth": 3, "clip": true, "strokeJoin": "round"},
 "encoding": {
  "x": {"field": "n", "type": "quantitative", "title": null, "scale": {"domain": [0, 278.25], "nice": false, "zero": false}},
  "y": {"field": "p", "type": "quantitative", "title": null, "scale": {"domain": [1.09894, 1.11602], "nice": false, "zero": false}},
  "detail": {"field": "s", "type": "nominal"}
 }},
{"data": {"name": "tl"},
 "transform": [{"filter": "datum.s == 'b'"}],
 "mark": {"type": "line", "color": "#00F000", "strokeWidth": 1, "strokeDash": [4, 3], "clip": true, "strokeJoin": "round"},
 "encoding": {
  "x": {"field": "n", "type": "quantitative", "title": null, "scale": {"domain": [0, 278.25], "nice": false, "zero": false}},
  "y": {"field": "p", "type": "quantitative", "title": null, "scale": {"domain": [1.09894, 1.11602], "nice": false, "zero": false}}
 }},
{"data": {"name": "lv"},
 "mark": {"type": "rule", "color": "#FF0000", "strokeWidth": 2, "clip": true},
 "encoding": {
  "y": {"field": "p", "type": "quantitative", "title": null, "scale": {"domain": [1.09894, 1.11602], "nice": false, "zero": false}}
 }},
{"data": {"values": [{}]},
 "mark": {"type": "rule", "color": "#F4511E", "strokeWidth": 1, "clip": true},
 "encoding": {
  "y": {"datum": 1.1149, "type": "quantitative", "scale": {"domain": [1.09894, 1.11602], "nice": false, "zero": false}}
 }},
{"data": {"values": [{}]},
 "mark": {"type": "rule", "color": "#A8A8A8", "strokeWidth": 1, "clip": true},
 "encoding": {
  "y": {"datum": 1.1146, "type": "quantitative", "scale": {"domain": [1.09894, 1.11602], "nice": false, "zero": false}}
 }},
{"data": {"values": [{}]},
 "mark": {"type": "rule", "color": "#000000", "strokeWidth": 1, "strokeDash": [3, 3], "clip": true},
 "encoding": {
  "x": {"datum": 126, "type": "quantitative", "scale": {"domain": [0, 278.25], "nice": false, "zero": false}}
 }},
{"data": {"name": "lb"},
 "mark": {"type": "bar", "orient": "horizontal", "size": 11},
 "encoding": {
  "x": {"datum": 278.5, "type": "quantitative", "scale": {"domain": [0, 278.25], "nice": false, "zero": false}},
  "x2": {"datum": 287.6},
  "y": {"field": "p", "type": "quantitative", "title": null, "scale": {"domain": [1.09894, 1.11602], "nice": false, "zero": false}},
  "color": {"field": "k", "type": "nominal", "legend": null, "scale": {"domain": ["o", "b", "r"], "range": ["#F4511E", "#000000", "#FF0000"]}}
 }},
{"data": {"name": "lb"},
 "mark": {"type": "text", "color": "#FFFFFF", "font": "Liberation Sans", "fontSize": 9.5, "align": "center", "baseline": "middle"},
 "encoding": {
  "x": {"datum": 283.05, "type": "quantitative", "scale": {"domain": [0, 278.25], "nice": false, "zero": false}},
  "y": {"field": "p", "type": "quantitative", "title": null, "scale": {"domain": [1.09894, 1.11602], "nice": false, "zero": false}},
  "text": {"field": "t", "type": "nominal"}
 }}
]
},
{
"width": 1113, "height": 142,
"layer": [
{"data": {"name": "bars"},
 "transform": [{"window": [{"op": "lag", "field": "v", "as": "pv"}], "sort": [{"field": "n"}]}],
 "mark": {"type": "bar", "width": 2.6, "clip": true},
 "encoding": {
  "x": {"field": "n", "type": "quantitative", "title": null, "scale": {"domain": [0, 278.25], "nice": false, "zero": false},
        "axis": {"values": [2,10,18,26,34,42,50,58,66,74,82,90,98,106,114,122,130,138,146,154,162,170,178,186,194,202,210,218,226,234,242,250,258,266,274], "grid": true, "title": null, "labelAlign": "left", "labelBaseline": "top", "labelPadding": 2, "tickSize": 4, "labelFlush": false, "labelBound": false,
                 "tickOpacity": {"condition": {"test": "(datum.value - 50) % 16 == 0 && datum.value >= 50 && datum.value <= 210", "value": 1}, "value": 0},
                 "labelExpr": "(datum.value - 50) % 16 == 0 && datum.value >= 50 && datum.value <= 210 ? ['12 Jul 17:40','12 Jul 19:00','12 Jul 20:20','12 Jul 21:40','12 Jul 23:00','13 Jul 00:20','13 Jul 01:45','13 Jul 03:05','13 Jul 04:25','13 Jul 05:45','13 Jul 07:05'][(datum.value - 50) / 16] : ''"}},
  "y": {"field": "v", "type": "quantitative", "title": null, "scale": {"domain": [0, 341.4], "nice": false, "zero": false},
        "axis": {"orient": "right", "values": [0, 327], "grid": false, "tickSize": 4, "labelPadding": 1, "labelFlush": true, "title": null}},
  "fill": {"condition": {"test": "datum.v > datum.pv", "value": "#008000"}, "value": "#FF0000"}
 }},
{"data": {"values": [{}]},
 "mark": {"type": "rule", "color": "#000000", "strokeWidth": 1, "strokeDash": [3, 3], "clip": true},
 "encoding": {
  "x": {"datum": 126, "type": "quantitative", "scale": {"domain": [0, 278.25], "nice": false, "zero": false}}
 }},
{"data": {"values": [{}]},
 "mark": {"type": "rect", "color": "#5d5d5d"},
 "encoding": {
  "x": {"datum": 0, "type": "quantitative", "scale": {"domain": [0, 278.25], "nice": false, "zero": false}},
  "x2": {"datum": 45},
  "y": {"datum": 57.7, "type": "quantitative", "scale": {"domain": [0, 341.4], "nice": false, "zero": false}},
  "y2": {"datum": -52}
 }},
{"data": {"values": [{}]},
 "mark": {"type": "text", "text": "⚙", "font": "DejaVu Sans", "fontSize": 38, "color": "#e8e8e8", "align": "left", "baseline": "middle"},
 "encoding": {
  "x": {"datum": 2, "type": "quantitative", "scale": {"domain": [0, 278.25], "nice": false, "zero": false}},
  "y": {"datum": 5, "type": "quantitative", "scale": {"domain": [0, 341.4], "nice": false, "zero": false}}
 }},
{"data": {"values": [{}]},
 "mark": {"type": "text", "text": "instaforex", "font": "Open Sans", "fontSize": 26, "color": "#ececec", "align": "left", "baseline": "alphabetic"},
 "encoding": {
  "x": {"datum": 12, "type": "quantitative", "scale": {"domain": [0, 278.25], "nice": false, "zero": false}},
  "y": {"datum": 6, "type": "quantitative", "scale": {"domain": [0, 341.4], "nice": false, "zero": false}}
 }},
{"data": {"values": [{}]},
 "mark": {"type": "text", "text": "Instant Forex Trading", "font": "Open Sans", "fontSize": 11, "color": "#dcdcdc", "align": "left", "baseline": "alphabetic"},
 "encoding": {
  "x": {"datum": 12, "type": "quantitative", "scale": {"domain": [0, 278.25], "nice": false, "zero": false}},
  "y": {"datum": -43, "type": "quantitative", "scale": {"domain": [0, 341.4], "nice": false, "zero": false}}
 }}
]
}
],
"config": {
 "view": {"stroke": "#000000", "strokeWidth": 1},
 "axis": {"labelFont": "Liberation Sans", "labelFontSize": 9.5, "labelColor": "#000000", "domainColor": "#000000", "tickColor": "#000000", "gridColor": "#c0c0c0", "gridDash": [3, 3], "gridWidth": 1, "labelOverlap": false},
 "text": {"font": "Liberation Sans"}
}
}
